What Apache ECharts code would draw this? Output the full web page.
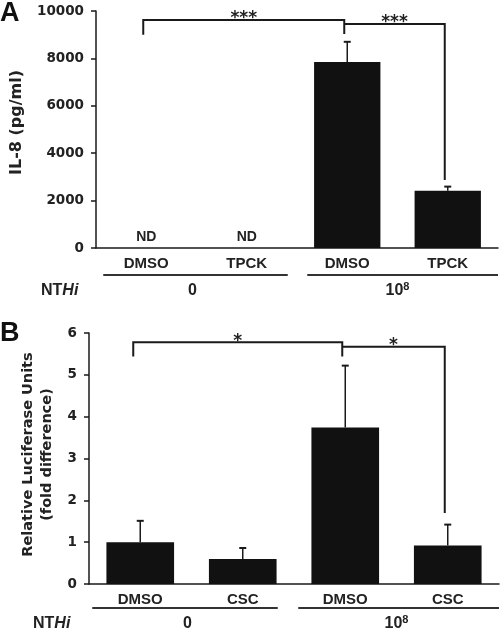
<!DOCTYPE html>
<html><head><meta charset="utf-8">
<script src="https://cdn.jsdelivr.net/npm/echarts@6/dist/echarts.min.js"></script>
<style>html,body{margin:0;padding:0;background:#fff}#c{width:500px;height:632px}</style>
</head><body><div id="c"></div>
<script>
// ---------- Panel A data ----------
const categoriesA = ['DMSO', 'TPCK', 'DMSO', 'TPCK'];
const valuesA = [null, null, 7850, 2420];      // null = ND
const errorsA = [null, null, 850, 170];
const ticksA = { min: 0, max: 10000, interval: 2000 };
const titleA = 'IL-8 (pg/ml)';
const groupLabelsA = ['0', '10{sup|8}'];
const groupRangesA = [[0, 1], [2, 3]];
// brackets: [fromIndex, toIndex, topValue, leftLegBottom, rightLegBottom]
const bracketsA = [[0, 2, 9620, 9000, 9030], [2, 3, 9450, null, 2870]];
const starsA = ['***', '***'];

// ---------- Panel B data ----------
const categoriesB = ['DMSO', 'CSC', 'DMSO', 'CSC'];
const valuesB = [1.0, 0.6, 3.74, 0.92];
const errorsB = [0.51, 0.26, 1.48, 0.50];
const ticksB = { min: 0, max: 6, interval: 1 };
const titleB = 'Relative Luciferase Units\n(fold difference)';
const groupLabelsB = ['0', '10{sup|8}'];
const groupRangesB = [[0, 1], [2, 3]];
const bracketsB = [[0, 2, 5.78, 5.44, 5.44], [2, 3, 5.67, null, 1.70]];
const starsB = ['*', '*'];

const INK = '#1a1a1a';
const TICKFONT = { fontFamily: 'DejaVu Sans', fontWeight: 'bold', fontSize: 13.5, color: '#222' };
const CATFONT = { fontFamily: 'Liberation Sans', fontWeight: 'bold', fontSize: 15, color: '#222' };

function errData(vals, errs) {
  return vals.map((v, i) => [i, v == null ? 0 : v, errs[i] == null ? 0 : errs[i], v == null ? 1 : 0]);
}
function errRender(params, api) {
  const i = api.value(0), v = api.value(1), e = api.value(2), nd = api.value(3);
  const base = api.coord([i, v]);
  if (nd) {
    return { type: 'text', x: base[0], y: base[1] - 11,
      style: { text: 'ND', textAlign: 'center', textVerticalAlign: 'middle',
        fontFamily: 'Liberation Sans', fontWeight: 'bold', fontSize: 14, fill: '#222' } };
  }
  const top = api.coord([i, v + e]);
  return { type: 'group', children: [
    { type: 'line', shape: { x1: base[0], y1: base[1], x2: top[0], y2: top[1] }, style: { stroke: INK, lineWidth: 1.5 } },
    { type: 'line', shape: { x1: top[0] - 3.5, y1: top[1], x2: top[0] + 3.5, y2: top[1] }, style: { stroke: INK, lineWidth: 2 } }
  ] };
}
function bracketData(br) {
  return br.map(b => [b[0], b[1], b[2], b[3] == null ? NaN : b[3], b[4] == null ? NaN : b[4]]);
}
function makeBracketRender(stars, leftShift) {
  return function (params, api) {
    const i1 = api.value(0), i2 = api.value(1), top = api.value(2), lb = api.value(3), rb = api.value(4);
    const pL = api.coord([i1, top]), pR = api.coord([i2, top]);
    const xL = pL[0] - 3 - (isNaN(lb) ? 0 : leftShift), xR = pR[0] - 3, yT = pL[1];
    const pts = [];
    if (!isNaN(lb)) pts.push([xL, api.coord([i1, lb])[1]]);
    pts.push([xL, yT]); pts.push([xR, yT]);
    if (!isNaN(rb)) pts.push([xR, api.coord([i2, rb])[1]]);
    return { type: 'group', children: [
      { type: 'polyline', shape: { points: pts }, style: { stroke: INK, lineWidth: 2, fill: null } },
      { type: 'text', x: (xL + xR) / 2, y: yT - 1,
        style: { text: stars[params.dataIndex], textAlign: 'center', textVerticalAlign: 'middle',
          fontFamily: 'DejaVu Sans', fontWeight: 'bold', fontSize: 17, fill: '#222' } }
    ] };
  };
}

const chart = echarts.init(document.getElementById('c'), null, { renderer: 'canvas' });
function xAx(grid, cats) {
  return { type: 'category', gridIndex: grid, data: cats,
    axisLine: { lineStyle: { color: INK, width: 1.5 } }, axisTick: { show: false },
    axisLabel: Object.assign({ margin: 8 }, CATFONT) };
}
function yAx(grid, t, name, gap, fs, lh, pad) {
  return { type: 'value', gridIndex: grid, min: t.min, max: t.max, interval: t.interval,
    splitLine: { show: false },
    axisLine: { show: true, lineStyle: { color: INK, width: 1.5 } },
    axisTick: { show: true, length: 5, lineStyle: { color: INK, width: 1.5 } },
    axisLabel: Object.assign({ margin: 12, formatter: v => String(v) }, TICKFONT),
    name: name, nameLocation: 'middle', nameRotate: 90, nameGap: gap,
    nameTextStyle: { fontFamily: 'DejaVu Sans', fontWeight: 'bold', fontSize: fs, lineHeight: lh, color: '#222', padding: pad } };
}
chart.setOption({
  animation: false,
  backgroundColor: '#fff',
  grid: [
    { left: 92, right: 2, top: 11, bottom: 384 },
    { left: 89, right: 1, top: 333, bottom: 48 }
  ],
  xAxis: [xAx(0, categoriesA), xAx(1, categoriesB)],
  yAxis: [yAx(0, ticksA, titleA, 70, 16, 18, [0, 0, 0, 14]), yAx(1, ticksB, titleB, 27, 14.5, 19, [0, 0, 0, 8])],
  series: [
    { type: 'bar', xAxisIndex: 0, yAxisIndex: 0, data: valuesA, barWidth: '66%', itemStyle: { color: '#111' } },
    { type: 'bar', xAxisIndex: 1, yAxisIndex: 1, data: valuesB, barWidth: '66%', itemStyle: { color: '#111' } },
    { type: 'custom', xAxisIndex: 0, yAxisIndex: 0, data: errData(valuesA, errorsA), renderItem: errRender, encode: { x: 0, y: 1 }, z: 3 },
    { type: 'custom', xAxisIndex: 1, yAxisIndex: 1, data: errData(valuesB, errorsB), renderItem: errRender, encode: { x: 0, y: 1 }, z: 3 },
    { type: 'custom', xAxisIndex: 0, yAxisIndex: 0, data: bracketData(bracketsA), renderItem: makeBracketRender(starsA, 0), encode: { x: 0, y: 2 }, clip: false, z: 4 },
    { type: 'custom', xAxisIndex: 1, yAxisIndex: 1, data: bracketData(bracketsB), renderItem: makeBracketRender(starsB, 4), encode: { x: 0, y: 2 }, clip: false, z: 4 }
  ]
});

// ---------- decorations: panel letters, group lines & labels ----------
function groupGraphics(grid, ranges, labels, lineY, labelY, nthiX, ext, axisEnd) {
  const out = [];
  ranges.forEach((r, k) => {
    const a = chart.convertToPixel({ gridIndex: grid }, [r[0], 0])[0];
    const b = chart.convertToPixel({ gridIndex: grid }, [r[1], 0])[0];
    const x1 = a - ext[k][0];
    const x2 = k === ranges.length - 1 ? axisEnd : b + ext[k][1];
    out.push({ type: 'line', shape: { x1: x1, y1: lineY, x2: x2, y2: lineY }, style: { stroke: '#333', lineWidth: 2 } });
    out.push({ type: 'text', x: (a + b) / 2 - (k === 0 ? 4 : 0), y: labelY,
      style: { text: labels[k], textAlign: 'center', textVerticalAlign: 'middle',
        font: 'bold 16px "Liberation Sans"', fill: '#222',
        rich: { sup: { font: 'bold 11px "Liberation Sans"', fill: '#222', padding: [0, 0, 9, 0] } } } });
  });
  out.push({ type: 'text', x: nthiX, y: labelY,
    style: { text: 'NT{i|Hi}', textAlign: 'left', textVerticalAlign: 'middle',
      font: 'bold 16px "Liberation Sans"', fill: '#222',
      rich: { i: { font: 'italic bold 16px "Liberation Sans"', fill: '#222' } } } });
  return out;
}
const gr = [];
gr.push({ type: 'text', x: 0, y: 14, style: { text: 'A', textAlign: 'left', textVerticalAlign: 'middle', font: 'bold 27px "Liberation Sans"', fill: '#111' } });
gr.push({ type: 'text', x: 0, y: 334, style: { text: 'B', textAlign: 'left', textVerticalAlign: 'middle', font: 'bold 27px "Liberation Sans"', fill: '#111' } });
groupGraphics(0, groupRangesA, groupLabelsA, 275, 291, 41, [[43, 41], [40, 0]], 498).forEach(g => gr.push(g));
groupGraphics(1, groupRangesB, groupLabelsB, 608, 624, 33, [[48, 35], [47, 0]], 499).forEach(g => gr.push(g));
chart.setOption({ graphic: gr });
</script>
</body></html>
